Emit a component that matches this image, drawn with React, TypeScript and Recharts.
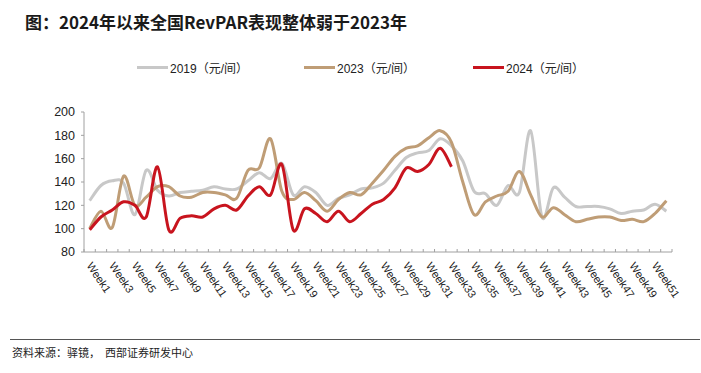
import React from "react";
import { LineChart, Line, XAxis, YAxis } from "recharts";

const weeks = Array.from({ length: 52 }, (_, i) => `Week${i + 1}`);

const revpar2019 = [
  124, 137, 141, 139, 112, 150, 133, 128, 131, 132, 133, 136, 134,
  134, 141, 148, 143, 156, 129, 136, 131, 120, 126, 129, 134, 135,
  139, 150, 161, 165, 167, 177, 171, 158, 132, 130, 120, 137, 131,
  184, 110, 135, 127, 119, 119, 119, 117, 113, 115, 116, 121, 115,
];

const revpar2023 = [
  100, 115, 101, 145, 120, 127, 136, 136, 128, 127, 131, 131, 129,
  126, 150, 152, 177, 132, 125, 131, 124, 115, 125, 131, 129, 139,
  150, 162, 169, 171, 178, 184, 174, 140, 112, 123, 128, 132, 149,
  129, 110, 118, 112, 106, 108, 110, 110, 107, 108, 106, 113, 124,
];

const revpar2024 = [
  99, 110, 116, 123, 120, 110, 153, 99, 109, 111, 110, 117, 120,
  116, 128, 136, 129, 155, 99, 117, 113, 106, 115, 106, 113, 121,
  125, 135, 152, 149, 155, 169, 153,
];

const yTicks = [80, 100, 120, 140, 160, 180, 200];

const seriesNames = ["2019（元/间）", "2023（元/间）", "2024（元/间）"];
const seriesColors = ["#c8c8c8", "#bf9d76", "#c8141e"];

const data = weeks.map((w, i) => ({
  week: w,
  y2019: revpar2019[i],
  y2023: revpar2023[i],
  y2024: i < revpar2024.length ? revpar2024[i] : null,
}));

// chart frame
const CHART_W = 701;
const CHART_H = 373;
const MARGIN = { top: 112, right: 29, bottom: 61, left: 44 };
const Y_AXIS_W = 40;
const PLOT_W = CHART_W - MARGIN.left - MARGIN.right - Y_AXIS_W;
// half a category band: points sit in the middle of each band, like Excel
const HALF_BAND = PLOT_W / weeks.length / 2;

// Excel-style smoothing (uniform Catmull-Rom through the points)
const smoothCurve = (context: any) => {
  let pts: number[][] = [];
  return {
    areaStart() {},
    areaEnd() {},
    lineStart() {
      pts = [];
    },
    lineEnd() {
      if (!pts.length) return;
      context.moveTo(pts[0][0], pts[0][1]);
      for (let i = 0; i < pts.length - 1; i++) {
        const p0 = pts[i - 1] || pts[i];
        const p1 = pts[i];
        const p2 = pts[i + 1];
        const p3 = pts[i + 2] || p2;
        context.bezierCurveTo(
          p1[0] + (p2[0] - p0[0]) / 6,
          p1[1] + (p2[1] - p0[1]) / 6,
          p2[0] - (p3[0] - p1[0]) / 6,
          p2[1] - (p3[1] - p1[1]) / 6,
          p2[0],
          p2[1]
        );
      }
    },
    point(x: number, y: number) {
      pts.push([+x, +y]);
    },
  };
};

const WeekTick = (props: any) => {
  const { x, y, payload, index } = props;
  return (
    <g>
      <line x1={x - HALF_BAND} x2={x - HALF_BAND} y1={y} y2={y - 3} stroke="#a0a0a0" />
      {index === weeks.length - 1 && (
        <line x1={x + HALF_BAND} x2={x + HALF_BAND} y1={y} y2={y - 3} stroke="#a0a0a0" />
      )}
      {index % 2 === 0 && (
        <text
          x={x - 3.5}
          y={y + 13.5}
          transform={`rotate(56, ${x - 3.5}, ${y + 13.5})`}
          textAnchor="start"
          fontSize={11}
          fontFamily="'Liberation Sans', Arial, sans-serif"
          fill="#222"
        >
          {payload.value}
        </text>
      )}
    </g>
  );
};

const ChartLegend = () => {
  const lefts = [137, 304, 473];
  return (
    <>
      {seriesNames.map((name, i) => (
        <div
          key={name}
          style={{
            position: "absolute",
            left: lefts[i],
            top: 59,
            display: "flex",
            alignItems: "center",
            fontSize: 12,
            fontFamily: "'Liberation Sans', 'Noto Sans CJK SC', sans-serif",
            color: "#222",
            whiteSpace: "nowrap",
          }}
        >
          <span
            style={{
              display: "inline-block",
              width: 31,
              height: 3,
              background: seriesColors[i],
              marginRight: 2,
            }}
          />
          {name}
        </div>
      ))}
    </>
  );
};

export default function App() {
  return (
    <div
      style={{
        position: "absolute",
        left: 0,
        top: 0,
        width: CHART_W,
        height: CHART_H,
        background: "#fff",
        fontFamily: "'Noto Sans CJK SC', sans-serif",
      }}
    >
      <div
        style={{
          position: "absolute",
          left: 25,
          top: 9,
          fontSize: 17,
          fontWeight: 700,
          color: "#1a1a1a",
          whiteSpace: "nowrap",
          fontFamily: "'Noto Sans CJK SC', sans-serif",
        }}
      >
        图：2024年以来全国RevPAR表现整体弱于2023年
      </div>
      <ChartLegend />
      <div style={{ position: "absolute", left: 0, top: 0 }}>
        <LineChart width={CHART_W} height={CHART_H} data={data} margin={MARGIN}>
          <XAxis
            dataKey="week"
            interval={0}
            padding={{ left: HALF_BAND, right: HALF_BAND }}
            tick={<WeekTick />}
            tickLine={false}
            tickSize={0}
            tickMargin={0}
            height={60}
            axisLine={{ stroke: "#a0a0a0" }}
          />
          <YAxis
            domain={[80, 200]}
            ticks={yTicks}
            interval={0}
            width={Y_AXIS_W}
            tickSize={3}
            tickMargin={6}
            axisLine={{ stroke: "#a0a0a0" }}
            tickLine={{ stroke: "#a0a0a0" }}
            tick={{ fontSize: 12.5, fill: "#222", fontFamily: "'Liberation Sans', Arial, sans-serif" }}
          />
          <Line
            dataKey="y2019"
            type={smoothCurve as any}
            stroke={seriesColors[0]}
            strokeWidth={3}
            dot={false}
            isAnimationActive={false}
          />
          <Line
            dataKey="y2023"
            type={smoothCurve as any}
            stroke={seriesColors[1]}
            strokeWidth={3}
            dot={false}
            isAnimationActive={false}
          />
          <Line
            dataKey="y2024"
            type={smoothCurve as any}
            stroke={seriesColors[2]}
            strokeWidth={3}
            dot={false}
            isAnimationActive={false}
          />
        </LineChart>
      </div>
      <div
        style={{
          position: "absolute",
          left: 10,
          top: 339,
          width: 690,
          height: 0,
          borderTop: "1.5px solid #555",
        }}
      />
      <div
        style={{
          position: "absolute",
          left: 12,
          top: 344,
          fontSize: 11,
          color: "#222",
          whiteSpace: "pre",
          fontFamily: "'Noto Sans CJK SC', sans-serif",
        }}
      >
        资料来源：驿镜，  西部证券研发中心
      </div>
    </div>
  );
}
